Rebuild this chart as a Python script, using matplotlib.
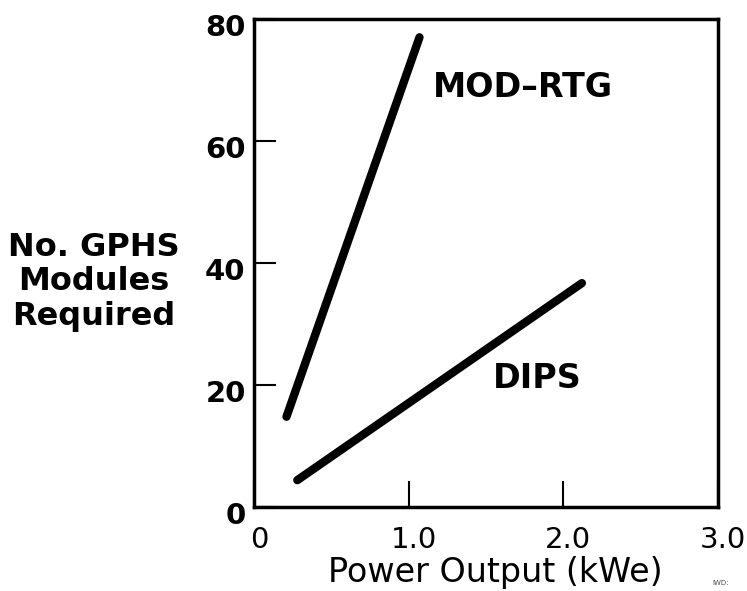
import matplotlib
matplotlib.use("Agg")
import matplotlib.pyplot as plt
from matplotlib.transforms import ScaledTranslation

# values
mod_rtg_kwe = [0.21, 1.07]
mod_rtg_modules = [14.8, 77.0]
dips_kwe = [0.28, 2.12]
dips_modules = [4.4, 36.7]

y_ticks = [0, 20, 40, 60, 80]
x_tick_pos = [0, 1, 2, 3]
x_tick_labels = ["0", "1.0", "2.0", "3.0"]

fig = plt.figure(figsize=(7.47, 5.91), dpi=100)
ax = fig.add_axes([254 / 747, 1 - 507 / 591, (718 - 254) / 747, (507 - 19) / 591])

ax.plot(mod_rtg_kwe, mod_rtg_modules, color="black", lw=6, solid_capstyle="round")
ax.plot(dips_kwe, dips_modules, color="black", lw=6, solid_capstyle="round")

ax.text(1.157, 67.2, "MOD\u2013RTG", fontsize=24, fontweight="bold", ha="left", va="baseline")
ax.text(1.545, 19.5, "DIPS", fontsize=24, fontweight="bold", ha="left", va="baseline")

ax.set_xlim(0, 3)
ax.set_ylim(0, 80)
for s in ax.spines.values():
    s.set_linewidth(2.5)

ax.set_yticks(y_ticks)
ax.set_yticklabels([str(v) for v in y_ticks], fontsize=21, fontweight="bold")
ax.tick_params(axis="y", direction="in", length=16, width=1.5, pad=6)
for lab in ax.get_yticklabels():
    lab.set_transform(lab.get_transform() + ScaledTranslation(0, -0.06, fig.dpi_scale_trans))

ax.set_xticks(x_tick_pos)
ax.set_xticklabels(x_tick_labels, fontsize=21)
ax.tick_params(axis="x", direction="in", length=19, width=1.5, pad=14)
for lab in ax.get_xticklabels():
    lab.set_transform(lab.get_transform() + ScaledTranslation(0.05, 0, fig.dpi_scale_trans))

ax.set_xlabel("Power Output (kWe)", fontsize=24)
ax.xaxis.set_label_coords((495 - 254) / 464, (507 - 556) / 488)

fig.text(94 / 747, 1 - 282 / 591, "No. GPHS\nModules\nRequired", fontsize=23, fontweight="bold",
         ha="center", va="center", multialignment="center", linespacing=1.15)

fig.text(712 / 747, 6 / 591, "IWD:", fontsize=5, color="0.3")

fig.savefig("out.png", dpi=100)
